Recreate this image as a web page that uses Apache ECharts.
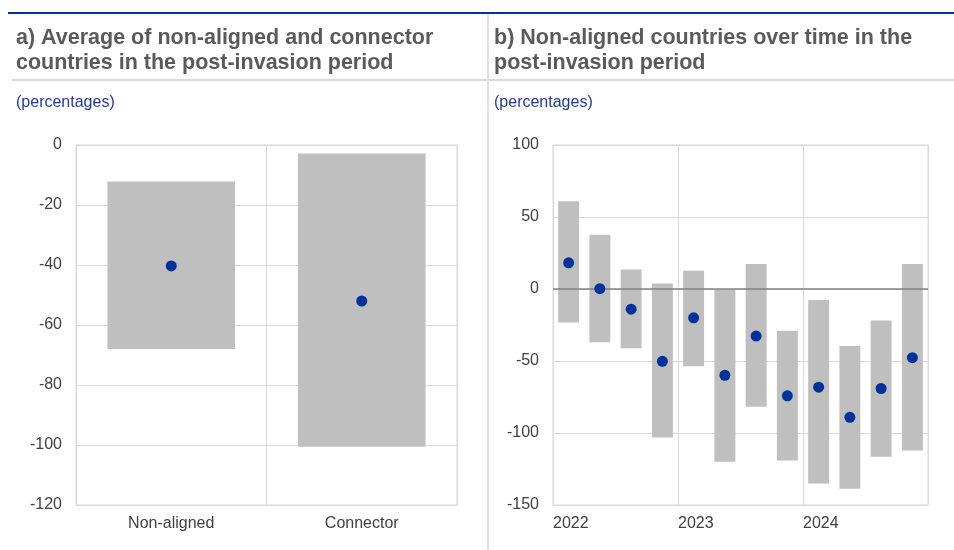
<!DOCTYPE html>
<html>
<head>
<meta charset="utf-8">
<script src="https://cdn.jsdelivr.net/npm/echarts@6/dist/echarts.min.js"></script>
<style>
html,body{margin:0;padding:0;background:#fff;}
#chart{width:954px;height:550px;}
</style>
</head>
<body>
<div id="chart"></div>
<script>
// Panel a data
const groupCategories = ['Non-aligned', 'Connector'];
const groupLow = [-68, -100.6];
const groupHigh = [-12.2, -2.8];
const groupMean = [-40.3, -52];

// Panel b data (quarters of 2022-2024)
const quarters = ['2022 Q1','2022 Q2','2022 Q3','2022 Q4','2023 Q1','2023 Q2','2023 Q3','2023 Q4','2024 Q1','2024 Q2','2024 Q3','2024 Q4'];
const yearLabels = ['2022', '2023', '2024'];
const quarterLow  = [-23.2, -36.9, -41.2, -103.2, -53.6, -120, -81.8, -119.1, -135, -138.7, -116.5, -112.2];
const quarterHigh = [61, 37.6, 13.6, 3.9, 12.7, -0.5, 17.3, -29, -7.6, -39.6, -21.9, 17.3];
const quarterMean = [18.2, 0.2, -14, -50.2, -20, -59.9, -32.7, -74.2, -68.2, -89.1, -69.1, -47.7];

const FONT = '"Liberation Sans", Arial, sans-serif';
const BAR = '#bfbfbf';
const DOT = '#003299';
const GRID = '#d9d9d9';
const TXT = '#404040';

function rangeRender(params, api) {
  const x = api.value(0);
  const lo = api.value(1), hi = api.value(2);
  const p1 = api.coord([x, hi]);
  const p2 = api.coord([x, lo]);
  const w = api.size([1, 0])[0] * 0.67;
  return {
    type: 'rect',
    shape: { x: p1[0] - w / 2, y: p1[1], width: w, height: p2[1] - p1[1] },
    style: { fill: BAR }
  };
}

const chart = echarts.init(document.getElementById('chart'), null, { renderer: 'canvas' });

const titleStyle = { fontFamily: FONT, fontSize: 21.5, fontWeight: 'bold', color: '#5a5a5a', lineHeight: 25 };
const subStyle = { fontFamily: FONT, fontSize: 16, fontWeight: 'normal', color: '#1f3c9c' };

const option = {
  animation: false,
  backgroundColor: '#fff',
  textStyle: { fontFamily: FONT },
  title: [
    { text: 'a) Average of non-aligned and connector\ncountries in the post-invasion period', left: 16, top: 25.5, padding: 0, textStyle: titleStyle },
    { text: 'b) Non-aligned countries over time in the\npost-invasion period', left: 494, top: 25.5, padding: 0, textStyle: titleStyle },
    { text: '(percentages)', left: 16, top: 94.5, padding: 0, textStyle: subStyle },
    { text: '(percentages)', left: 494, top: 94.5, padding: 0, textStyle: subStyle }
  ],
  graphic: [
    { type: 'line', shape: { x1: 8, y1: 13, x2: 954, y2: 13 }, style: { stroke: '#003299', lineWidth: 2 }, z: 10 },
    { type: 'line', shape: { x1: 12, y1: 80, x2: 954, y2: 80 }, style: { stroke: GRID, lineWidth: 2 } },
    { type: 'line', shape: { x1: 488, y1: 14, x2: 488, y2: 550 }, style: { stroke: GRID, lineWidth: 1.5 } }
  ],
  grid: [
    { left: 76, right: 497, top: 145, bottom: 45, show: true, borderColor: GRID, borderWidth: 1 },
    { left: 553, right: 26, top: 145, bottom: 45, show: true, borderColor: GRID, borderWidth: 1 }
  ],
  xAxis: [
    { gridIndex: 0, type: 'category', data: groupCategories, boundaryGap: true,
      axisLine: { show: false }, axisTick: { show: false },
      axisLabel: { fontFamily: FONT, fontSize: 16, color: TXT, margin: 11 },
      splitLine: { show: true, lineStyle: { color: GRID, width: 1 } } },
    { gridIndex: 1, type: 'value', min: 0, max: quarters.length, interval: 4,
      axisLine: { show: false }, axisTick: { show: false },
      axisLabel: { fontFamily: FONT, fontSize: 16, color: TXT, margin: 11, align: 'left',
        formatter: v => (v / 4 < yearLabels.length ? yearLabels[v / 4] : '') },
      splitLine: { show: true, lineStyle: { color: GRID, width: 1 } } }
  ],
  yAxis: [
    { gridIndex: 0, type: 'value', min: -120, max: 0, interval: 20,
      axisLine: { show: false }, axisTick: { show: false },
      axisLabel: { fontFamily: FONT, fontSize: 16, color: TXT, margin: 14 },
      splitLine: { lineStyle: { color: GRID, width: 1 } } },
    { gridIndex: 1, type: 'value', min: -150, max: 100, interval: 50,
      axisLine: { show: false }, axisTick: { show: false },
      axisLabel: { fontFamily: FONT, fontSize: 16, color: TXT, margin: 14 },
      splitLine: { lineStyle: { color: GRID, width: 1 } } }
  ],
  series: [
    { type: 'custom', xAxisIndex: 0, yAxisIndex: 0, z: 2, renderItem: rangeRender,
      encode: { x: 0, y: [1, 2] },
      data: groupCategories.map((c, i) => [i, groupLow[i], groupHigh[i]]) },
    { type: 'scatter', xAxisIndex: 0, yAxisIndex: 0, z: 4, symbolSize: 11,
      itemStyle: { color: DOT, opacity: 1 },
      data: groupCategories.map((c, i) => [i, groupMean[i]]) },
    { type: 'custom', xAxisIndex: 1, yAxisIndex: 1, z: 2, renderItem: rangeRender,
      encode: { x: 0, y: [1, 2] },
      data: quarters.map((q, i) => [i + 0.5, quarterLow[i], quarterHigh[i]]) },
    { type: 'line', xAxisIndex: 1, yAxisIndex: 1, z: 3, symbol: 'none', silent: true,
      lineStyle: { color: '#808080', width: 1.5 },
      data: [[0, 0], [quarters.length, 0]] },
    { type: 'scatter', xAxisIndex: 1, yAxisIndex: 1, z: 4, symbolSize: 11,
      itemStyle: { color: DOT, opacity: 1 },
      data: quarters.map((q, i) => [i + 0.5, quarterMean[i]]) }
  ]
};
chart.setOption(option);
</script>
</body>
</html>
